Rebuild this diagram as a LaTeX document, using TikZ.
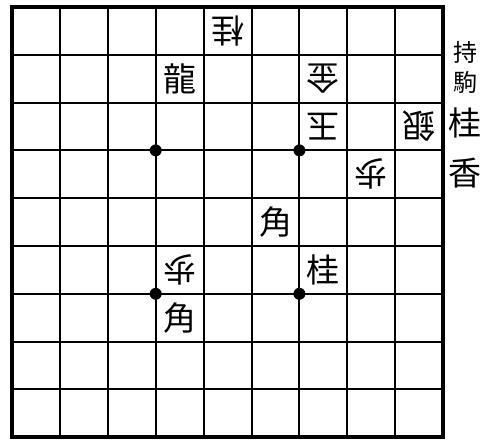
\documentclass[tikz,border=0pt]{standalone}
\usepackage{fontspec}
\newfontfamily\jpfont{Noto Sans CJK JP}
\usetikzlibrary{calc}

\tikzset{
  koma/.style={font=\jpfont\fontsize{33}{33}\selectfont,inner sep=0pt},
  gote/.style={koma,rotate=180},
  hoshi/.style={circle,fill=black,inner sep=0pt,minimum size=12pt},
  mochi/.style={font=\jpfont\fontsize{24}{24}\selectfont,inner sep=0pt},
}

\begin{document}
\begin{tikzpicture}[x=1pt,y=-1pt,line width=2pt]
  \useasboundingbox (0,0) rectangle (489,439);
  % board
  \foreach \i in {1,...,8} {
    \draw ({12+47.9*\i},7) -- ({12+47.9*\i},437);
    \draw (12,{7+47.8*\i}) -- (443,{7+47.8*\i});
  }
  \draw[line width=4pt] (12,7) rectangle (443,437);
  \node[hoshi] (h1) at (155.7,150.4) {};
  \node[hoshi] (h2) at (299.4,150.4) {};
  \node[hoshi] (h3) at (155.7,293.8) {};
  \node[hoshi] (h4) at (299.4,293.8) {};
  % pieces
  \node[gote] (k51) at (227.6,30.9) {桂};
  \node[koma] (r62) at (179.6,78.7) {龍};
  \node[gote] (g32) at (323.4,78.7) {金};
  \node[gote] (o33) at (323.4,126.5) {玉};
  \node[gote] (s13) at (419.2,126.5) {銀};
  \node[gote] (f24) at (371.3,174.3) {歩};
  \node[koma] (b45) at (275.5,222.1) {角};
  \node[gote] (f66) at (179.6,269.9) {歩};
  \node[koma] (n36) at (323.4,269.9) {桂};
  \node[koma] (b67) at (179.6,317.7) {角};
  % pieces in hand
  \node[mochi] (m1) at (465,52) {持};
  \node[mochi] (m2) at (465,82) {駒};
  \node[koma] (m3) at (465,123) {桂};
  \node[koma] (m4) at (465,173) {香};
\end{tikzpicture}
\end{document}
